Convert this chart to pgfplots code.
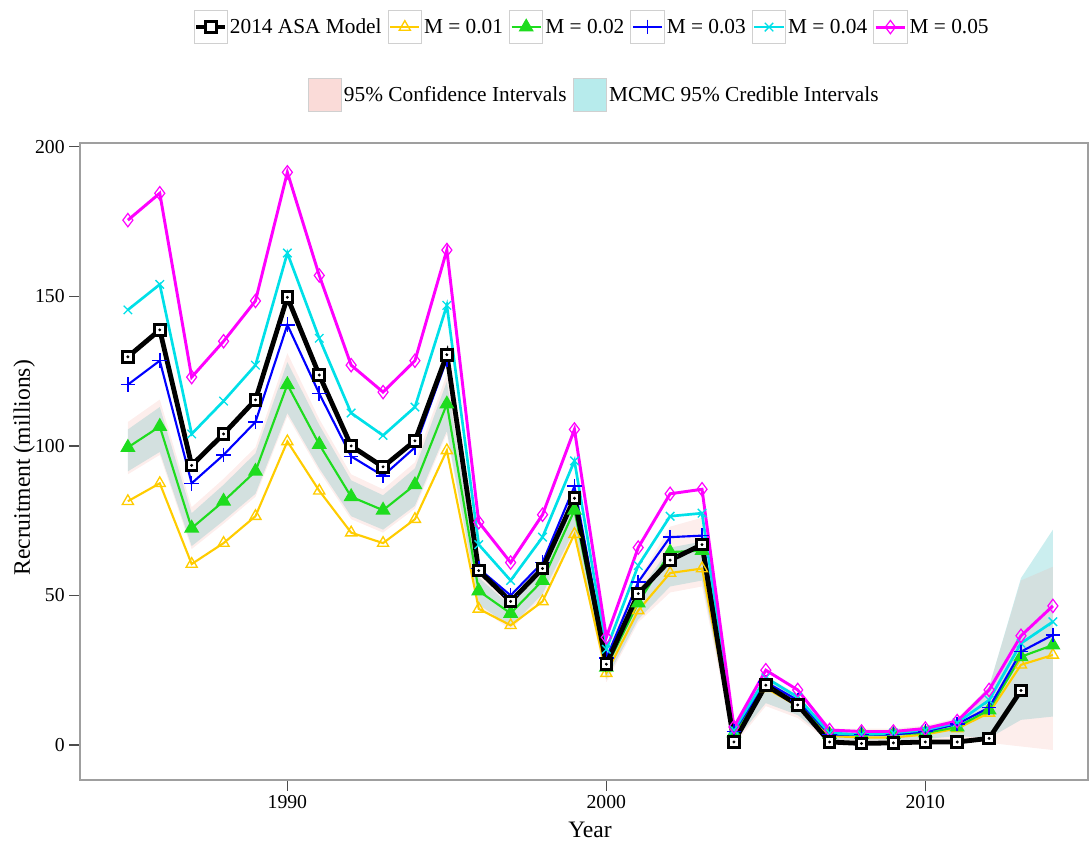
\documentclass[border=0pt]{standalone}
\usepackage{fontspec}
\setmainfont{Liberation Serif}
\usepackage{pgfplots}
\usepgfplotslibrary{fillbetween}
\usepackage{pgfplotstable}
\pgfplotsset{compat=1.18}
\definecolor{yelc}{HTML}{FFCC00}
\definecolor{grnc}{HTML}{1EDC1E}
\definecolor{bluc}{HTML}{0000FF}
\definecolor{cyac}{HTML}{00E0E8}
\definecolor{magc}{HTML}{FF00FF}
\definecolor{tealband}{HTML}{CBEEEF}
\definecolor{pinkband}{HTML}{F4A8A0}
\definecolor{tealkey}{HTML}{B7EBEC}
\definecolor{pinkkey}{HTML}{FADBD8}
\definecolor{keyframe}{HTML}{D0D0D0}
\tikzset{
  asa/.style={black, line width=3.6pt, mark=square*, mark size=4pt, mark options={solid, fill=white, draw=black, line width=2.2pt}},
  mone/.style={yelc, line width=1.6pt, mark=triangle, mark size=4.8pt, mark options={solid, line width=1pt}},
  mtwo/.style={grnc, line width=1.6pt, mark=triangle*, mark size=5pt, mark options={solid}},
  mthree/.style={bluc, line width=1.6pt, mark=+, mark size=5.5pt, mark options={solid, line width=1.2pt}},
  mfour/.style={cyac, line width=2pt, mark=x, mark size=4.5pt, mark options={solid, line width=1pt}},
  mfive/.style={magc, line width=2.2pt, mark=diamond, mark size=5pt, mark options={solid, line width=0.9pt}},
}
\pgfplotstableread{
year asa m1 m2 m3 m4 m5 tlo thi plo phi
1985 129.8 81.5 99.5 120.5 145.5 175.5 91.5 105.5 90.5 108
1986 138.8 87.5 106.5 128.5 154 184.5 98 113 97 115.5
1987 93.5 60.5 72.5 87.5 104 123 66.5 77.5 65.5 79.5
1988 104 67.5 81.5 97 115 135 75 87 74 89
1989 115.4 76.5 91.5 108 127 148.5 84 97.5 83 99.5
1990 149.7 101.5 120.5 140.5 164.5 191.5 111 128 110 131
1991 123.7 85 100.5 117.5 136 157 92.5 107 91.5 109
1992 100 71 83 96.5 111 127 76.5 88.5 75.5 90.5
1993 93 67.5 78.5 90 103.5 118 72 83.5 71 85.5
1994 101.7 75.5 87 99.5 113 128.5 80 92.5 79 94.5
1995 130.5 98.5 114 129 147 165.5 105 121.5 104 124
1996 58.3 45.5 51.5 59 67 74.5 47 56 46 58
1997 48 40 44 50 55 61 39.5 46.5 38.5 48
1998 59 48 55 61 69.5 77 50.5 59 49.5 61
1999 82.5 70.5 78.5 86.5 95 105.5 72 84 70.5 87
2000 27 24 26 29 32 36 22 29.5 21 31.5
2001 50.6 45 47.5 54.5 60 66 42 51 41 55
2002 61.8 57.5 64.5 69.5 76.5 84 53 66 51 73
2003 67 59 65 70 77.5 85.5 55 68 53 76
2004 1 3 4 4.5 5 6 1 6 0 7
2005 20 19 20 21 22.5 25 14 22 13 23
2006 13.4 13 14 15 16 18.4 10 16 9 17
2007 1 3 3.5 3.5 4 5 1.5 5 1 5.5
2008 0.5 2.5 3.5 3.5 3.5 4.5 1.5 5 1 5.5
2009 0.7 2.5 3.5 3.5 4 4.5 1.5 5 1 5.5
2010 1 3.5 4 4.5 5 5.5 2 6 1 6.5
2011 1 5.5 6 7 7.5 8 3 8.5 2 9
2012 2.2 10.7 11.7 12.5 15 18.4 2.3 19.5 0.7 19.5
2013 18.2 26.8 29.5 31.2 34 36.5 8.4 55.8 -0.5 55
2014 nan 30.1 33.4 36.8 41.2 46.5 9.5 72 -1.7 59.6
}\data
\begin{document}
\begin{tikzpicture}
\begin{axis}[
  name=main,
  scale only axis, width=756pt, height=477.75pt,
  xmin=1983.5, xmax=2015.1, ymin=-11.7, ymax=201.3,
  xtick={1990,2000,2010}, ytick={0,50,100,150,200},
  xtick pos=left, ytick pos=left,
  tick align=outside, major tick length=8pt,
  /pgf/number format/assume math mode=true,
  /pgf/number format/1000 sep={},
  tick label style={font=\fontsize{14.8}{16}\selectfont, black},
  axis line style={gray!75, line width=0.9pt},
  tick style={gray!60!black, line width=0.9pt},
  xlabel={Year}, ylabel={Recruitment (millions)},
  label style={font=\fontsize{17.7}{20}\selectfont},
  xlabel style={at={(axis description cs:0.506,-0.0785)}, anchor=center},
  ylabel style={at={(axis description cs:-0.0555,0.49)}, anchor=center},
  legend columns=6,
  legend style={at={(axis description cs:0.508,1.182)}, anchor=center, draw=none, fill=none,
    font=\fontsize{16}{18}\selectfont, nodes={inner sep=1.5pt},
    /tikz/every even column/.append style={column sep=3pt}},
  legend image code/.code={
    \draw[draw=keyframe, fill=white, line width=0.8pt, solid] (0pt,-12.5pt) rectangle (25pt,12.5pt);
    \draw[mark repeat=2, mark phase=2, #1] plot coordinates {(1.5pt,0pt) (12.5pt,0pt) (23.5pt,0pt)};
  },
]
\addplot[draw=none, name path=tlo, forget plot] table[x=year, y=tlo]{\data};
\addplot[draw=none, name path=thi, forget plot] table[x=year, y=thi]{\data};
\addplot[draw=none, name path=plo, forget plot] table[x=year, y=plo]{\data};
\addplot[draw=none, name path=phi, forget plot] table[x=year, y=phi]{\data};
\addplot[fill=tealband, draw=none, forget plot] fill between[of=tlo and thi];
\addplot[fill=pinkband, fill opacity=0.2, draw=none, forget plot] fill between[of=plo and phi];

\addplot[mone, forget plot] table[x=year, y=m1]{\data};
\addplot[mtwo, forget plot] table[x=year, y=m2]{\data};
\addplot[mthree, forget plot] table[x=year, y=m3]{\data};
\addplot[mfour, forget plot] table[x=year, y=m4]{\data};
\addplot[mfive, forget plot] table[x=year, y=m5]{\data};
\addplot[asa, forget plot, unbounded coords=discard] table[x=year, y=asa]{\data};
\addplot[only marks, mark=*, mark size=0.9pt, black, forget plot, unbounded coords=discard] table[x=year, y=asa]{\data};

\addlegendimage{asa}
\addlegendentry{2014 ASA Model}
\addlegendimage{mone}
\addlegendentry{M = 0.01}
\addlegendimage{mtwo}
\addlegendentry{M = 0.02}
\addlegendimage{mthree}
\addlegendentry{M = 0.03}
\addlegendimage{mfour}
\addlegendentry{M = 0.04}
\addlegendimage{mfive}
\addlegendentry{M = 0.05}

\coordinate (bbl) at (rel axis cs:-0.0794,-0.1005);
\coordinate (btr) at (rel axis cs:1.003,1.2245);
\end{axis}
\begin{axis}[
  scale only axis, width=756pt, height=477.75pt,
  xmin=0, xmax=1, ymin=0, ymax=1, hide axis,
  legend columns=2,
  legend style={at={(axis description cs:0.51,1.075)}, anchor=center, draw=none, fill=none,
    font=\fontsize{16}{18}\selectfont, nodes={inner sep=1.5pt},
    /tikz/every even column/.append style={column sep=3pt}},
  legend image code/.code={
    \draw[#1, line width=0.8pt] (0pt,-12.5pt) rectangle (25pt,12.5pt);
  },
]
\addlegendimage{fill=pinkkey, draw=keyframe}
\addlegendentry{95\% Confidence Intervals}
\addlegendimage{fill=tealkey, draw=keyframe}
\addlegendentry{MCMC 95\% Credible Intervals}
\end{axis}
\pgfresetboundingbox
\useasboundingbox (bbl) rectangle (btr);
\end{tikzpicture}
\end{document}
